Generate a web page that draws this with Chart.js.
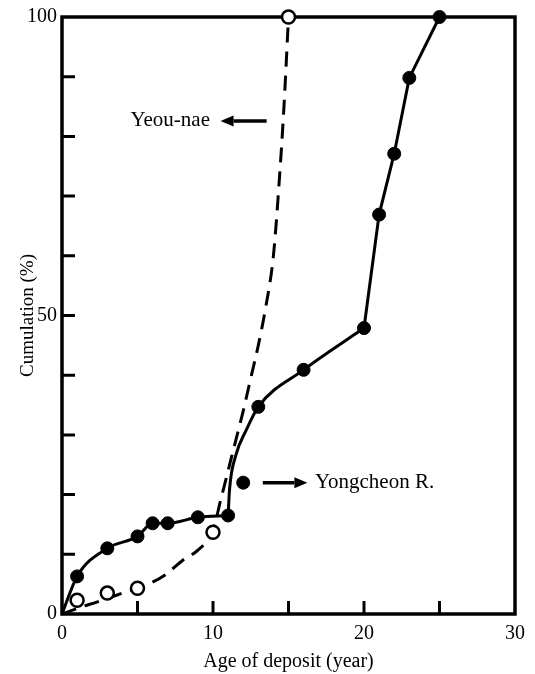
<!DOCTYPE html>
<html><head><meta charset="utf-8">
<script src="https://cdn.jsdelivr.net/npm/chart.js@4/dist/chart.umd.min.js"></script>
<style>html,body{margin:0;padding:0;background:#fff;}canvas{display:block;}</style>
</head><body>
<canvas id="c" width="535" height="674"></canvas>
<script>
// ---- data ----
const yongcheonAge = [1, 3, 5, 6, 7, 9, 11, 13, 16, 20, 21, 22, 23, 25];
const yongcheonCum = [6.3, 11, 13, 15.2, 15.2, 16.2, 16.5, 34.7, 40.9, 47.9, 66.9, 77.1, 89.8, 100];
// fitted solid curve in three pieces
const yongcheonLowAge = [0, 1, 3, 5, 6, 7, 9, 11];
const yongcheonLowCum = [0, 6.3, 11, 13, 15.2, 15.2, 16.2, 16.5];
const yongcheonMidAge = [11, 11.1, 11.5, 12.2, 13, 16, 20];
const yongcheonMidCum = [16.5, 21, 26.5, 30.8, 34.7, 40.9, 47.9];
const yongcheonHighAge = [20, 21, 22, 23, 25];
const yongcheonHighCum = [47.9, 66.9, 77.1, 89.8, 100];
const yongcheonKeyAge = [12];
const yongcheonKeyCum = [22];
const yeounaeAge = [1, 3, 5, 10, 15];
const yeounaeCum = [2.3, 3.5, 4.3, 13.7, 100];
const yeounaeCurveAge = [0, 1.3, 2.3, 3.9, 5.8, 6.8, 8, 9, 10, 10.5, 11, 11.5, 12, 12.5, 13, 13.5, 14, 14.4, 14.7, 15];
const yeounaeCurveCum = [0, 1.2, 2.0, 3.4, 5.1, 6.5, 9, 10.7, 14, 19, 24, 29, 34, 39.5, 45, 51.5, 60, 73, 85, 100];
const xTickLabels = [0, 10, 20, 30];
const yTickLabels = [0, 50, 100];
const seriesNames = ['Yeou-nae', 'Yongcheon R.'];
const axisTitles = ['Age of deposit (year)', 'Cumulation (%)'];

const pts = (xs, ys) => xs.map((x, i) => ({x: x, y: ys[i]}));
const FONT = '"Liberation Serif", "DejaVu Serif", serif';

function arrow(ctx, x1, y1, x2, y2) {
  const ang = Math.atan2(y2 - y1, x2 - x1);
  const hl = 13, hw = 5.5;
  const bx = x2 - hl * Math.cos(ang), by = y2 - hl * Math.sin(ang);
  ctx.beginPath(); ctx.moveTo(x1, y1); ctx.lineTo(bx, by);
  ctx.lineWidth = 3.5; ctx.strokeStyle = '#000'; ctx.stroke();
  ctx.beginPath();
  ctx.moveTo(x2, y2);
  ctx.lineTo(bx + hw * Math.sin(ang), by - hw * Math.cos(ang));
  ctx.lineTo(bx - hw * Math.sin(ang), by + hw * Math.cos(ang));
  ctx.closePath(); ctx.fillStyle = '#000'; ctx.fill();
}

const framePlugin = {
  id: 'frame',
  beforeDatasetsDraw(chart) {
    const {ctx, chartArea: a, scales: {x, y}} = chart;
    ctx.save();
    ctx.strokeStyle = '#000';
    ctx.lineWidth = 3.5;
    ctx.strokeRect(a.left, a.top, a.right - a.left, a.bottom - a.top);
    ctx.lineWidth = 3;
    ctx.beginPath();
    x.ticks.forEach(t => {
      if (t.value > x.min && t.value < x.max) {
        const px = x.getPixelForValue(t.value);
        ctx.moveTo(px, a.bottom); ctx.lineTo(px, a.bottom - 13);
      }
    });
    y.ticks.forEach(t => {
      if (t.value > y.min && t.value < y.max) {
        const py = y.getPixelForValue(t.value);
        ctx.moveTo(a.left, py); ctx.lineTo(a.left + 13, py);
      }
    });
    ctx.stroke();
    ctx.restore();
  },
  afterDatasetsDraw(chart) {
    const {ctx, scales: {x, y}} = chart;
    ctx.save();
    ctx.fillStyle = '#000';
    ctx.font = '21px ' + FONT;
    ctx.textBaseline = 'middle';
    const yy = y.getPixelForValue(82.6);
    ctx.textAlign = 'right';
    ctx.fillText(seriesNames[0], x.getPixelForValue(9.8), yy);
    arrow(ctx, x.getPixelForValue(13.55), yy, x.getPixelForValue(10.5), yy);
    const yk = y.getPixelForValue(yongcheonKeyCum[0]);
    arrow(ctx, x.getPixelForValue(13.3), yk, x.getPixelForValue(16.25), yk);
    ctx.textAlign = 'left';
    ctx.fillText(seriesNames[1], x.getPixelForValue(16.75), yk);
    ctx.restore();
  }
};

const lineBase = { showLine: true, borderColor: '#000', borderWidth: 3, pointRadius: 0, clip: false, fill: false };

new Chart(document.getElementById('c'), {
  type: 'scatter',
  data: {
    datasets: [
      { label: seriesNames[0], data: pts(yeounaeAge, yeounaeCum), showLine: false,
        pointRadius: 6.5, pointBackgroundColor: '#fff', pointBorderColor: '#000', pointBorderWidth: 2.5, clip: false },
      { label: seriesNames[1], data: pts(yongcheonAge, yongcheonCum), showLine: false,
        pointRadius: 6.5, pointBackgroundColor: '#000', pointBorderColor: '#000', pointBorderWidth: 1, clip: false },
      { label: seriesNames[1] + ' key', data: pts(yongcheonKeyAge, yongcheonKeyCum), showLine: false,
        pointRadius: 6.5, pointBackgroundColor: '#000', pointBorderColor: '#000', pointBorderWidth: 1, clip: false },
      Object.assign({ label: seriesNames[1] + ' curve low', data: pts(yongcheonLowAge, yongcheonLowCum), cubicInterpolationMode: 'monotone' }, lineBase),
      Object.assign({ label: seriesNames[1] + ' curve mid', data: pts(yongcheonMidAge, yongcheonMidCum), cubicInterpolationMode: 'monotone' }, lineBase),
      Object.assign({ label: seriesNames[1] + ' curve high', data: pts(yongcheonHighAge, yongcheonHighCum), tension: 0 }, lineBase),
      Object.assign({ label: seriesNames[0] + ' curve', data: pts(yeounaeCurveAge, yeounaeCurveCum), borderDash: [15, 9], cubicInterpolationMode: 'monotone' }, lineBase)
    ]
  },
  options: {
    responsive: false,
    animation: false,
    events: [],
    layout: { padding: { top: 15, right: 20, left: 0, bottom: 0 } },
    plugins: { legend: { display: false }, tooltip: { enabled: false } },
    scales: {
      x: {
        type: 'linear', min: 0, max: 30,
        grid: { display: false, drawTicks: false },
        border: { display: false },
        ticks: { stepSize: 5, padding: 8, color: '#000', font: { family: FONT, size: 20 },
          callback: v => xTickLabels.includes(v) ? String(v) : '' },
        title: { display: true, text: axisTitles[0], color: '#000', font: { family: FONT, size: 20 }, padding: { top: 0, bottom: 0 } },
        afterFit: s => { s.height = 60; }
      },
      y: {
        type: 'linear', min: 0, max: 100,
        grid: { display: false, drawTicks: false },
        border: { display: false },
        ticks: { stepSize: 10, padding: 5, color: '#000', font: { family: FONT, size: 20 },
          callback: v => yTickLabels.includes(v) ? String(v) : '' },
        title: { display: true, text: axisTitles[1], color: '#000', font: { family: FONT, size: 19 }, padding: { top: 17, bottom: 0 } },
        afterFit: s => { s.width = 62; }
      }
    }
  },
  plugins: [framePlugin]
});
</script>
</body></html>
